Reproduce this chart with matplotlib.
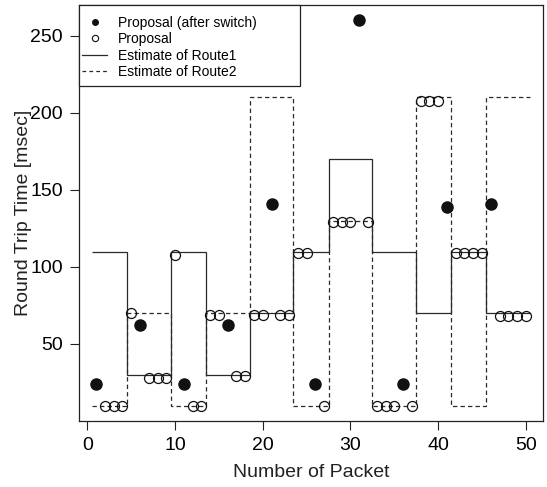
import matplotlib
matplotlib.use("Agg")
import matplotlib.pyplot as plt
import numpy as np
from matplotlib.lines import Line2D
from matplotlib.patches import Rectangle

plt.rcParams['font.family'] = ['Liberation Sans', 'DejaVu Sans']

# Packets with switched proposals (filled) and regular proposals (open)
switch_packets = [1, 6, 11, 16, 21, 26, 31, 36, 41, 46]
switch_rtt = [24, 62, 24, 62, 141, 24, 260, 24, 139, 141]

prop_packets = [2, 3, 4, 5, 7, 8, 9, 10, 12, 13, 14, 15, 17, 18, 19, 20, 22, 23,
                24, 25, 27, 28, 29, 30, 32, 33, 34, 35, 37, 38, 39, 40,
                42, 43, 44, 45, 47, 48, 49, 50]
prop_rtt = [10, 10, 10, 70, 28, 28, 28, 108, 10, 10, 69, 69, 29, 29, 69, 69, 69, 69,
            109, 109, 10, 129, 129, 129, 129, 10, 10, 10, 10, 208, 208, 208,
            109, 109, 109, 109, 68, 68, 68, 68]

# Route estimates as step functions
edges = [0.5, 4.5, 9.5, 13.5, 18.5, 23.5, 27.5, 32.5, 37.5, 41.5, 45.5, 50.5]
route1 = [110, 30, 110, 30, 70, 110, 170, 110, 70, 110, 70]
route2 = [10, 70, 10, 70, 210, 10, 130, 10, 210, 10, 210]

fig = plt.figure(figsize=(5.47, 4.87), dpi=100)
ax = fig.add_axes([79/547, 1-421/487, (543-79)/547, (421-5)/487])

lc = '#2a2a2a'
ax.stairs(route1, edges, baseline=None, color=lc, lw=0.9, ls='-', zorder=2)
ax.stairs(route2, edges, baseline=None, color=lc, lw=0.9, ls=(0, (3.5, 2.5)), zorder=2)

ax.plot(switch_packets, switch_rtt, 'o', color='#111111', ms=8, mec='#111111', zorder=3)
ax.plot(prop_packets, prop_rtt, 'o', mfc='none', mec='#111111', mew=0.9, ms=7.2, zorder=3)

ax.set_xlim(-0.96, 51.96)
ax.set_ylim(0, 270)
ax.set_xticks([0, 10, 20, 30, 40, 50])
ax.set_yticks([50, 100, 150, 200, 250])
ax.tick_params(direction='out', length=6.5, width=0.8, labelsize=14, pad=5, color='#222222')
for s in ax.spines.values():
    s.set_linewidth(0.9)
    s.set_color('#222222')

ax.set_xlabel('Number of Packet', fontsize=14, labelpad=7, color='#222222')
ax.set_ylabel('Round Trip Time [msec]', fontsize=14, labelpad=-1, color='#222222')

# legend frame
ax.add_patch(Rectangle((0, 1 - 81/416), 221/464, 81/416, transform=ax.transAxes,
                       facecolor='white', edgecolor='#222222', lw=0.9, zorder=5,
                       clip_on=False))

handles = [
    Line2D([], [], marker='o', ls='none', color='#111111', ms=4),
    Line2D([], [], marker='o', ls='none', mfc='none', mec='#111111', ms=4.5, mew=0.8),
    Line2D([], [], ls='-', color=lc, lw=0.9),
    Line2D([], [], ls=(0, (3, 2.5)), color=lc, lw=0.9),
]
labels = ['Proposal (after switch)', 'Proposal', 'Estimate of Route1', 'Estimate of Route2']
leg = ax.legend(handles, labels, loc='upper left', bbox_to_anchor=(3/464, 1 - 10.5/416),
                borderaxespad=0, fontsize=10, frameon=False,
                handlelength=1.8, handletextpad=0.8, labelspacing=0.18, borderpad=0)
leg.set_zorder(6)

fig.savefig('out.png', dpi=100)
